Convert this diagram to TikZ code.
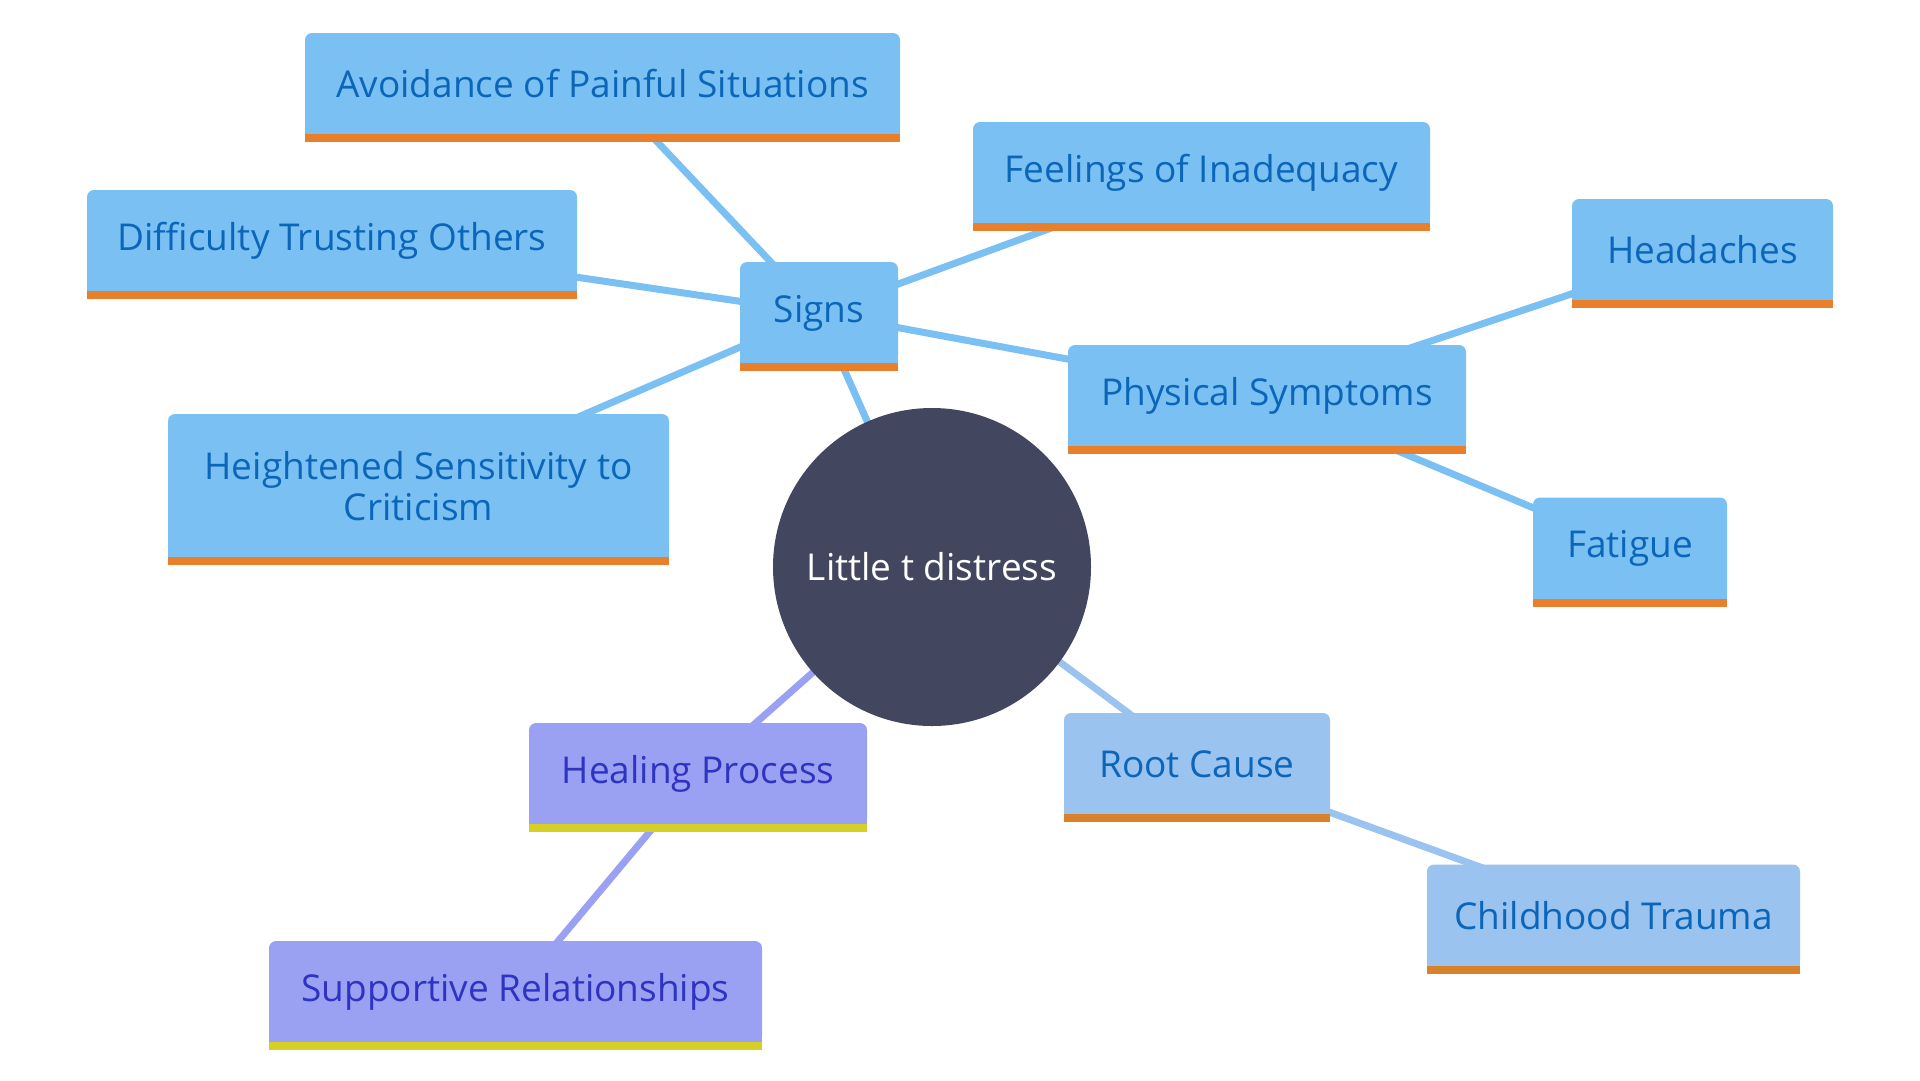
\documentclass[tikz,border=0pt]{standalone}
\usepackage{fontspec}
\setmainfont{Open Sans}
\usetikzlibrary{backgrounds}
\tikzset{>=latex}
\definecolor{b1}{HTML}{7BC0F2}
\definecolor{b2}{HTML}{0B66BA}
\definecolor{o1}{HTML}{E97F2B}
\definecolor{r1}{HTML}{9AC3EF}
\definecolor{r2}{HTML}{D9822A}
\definecolor{p1}{HTML}{9BA1F2}
\definecolor{p2}{HTML}{2E33C2}
\definecolor{y1}{HTML}{D6CF26}
\definecolor{c1}{HTML}{42465E}
\tikzstyle{box}=[rounded corners=7pt,inner sep=0pt,align=center,
                 minimum height=102pt,font=\fontsize{37}{41}\selectfont]
\tikzstyle{sign}=[box,fill=b1,text=b2]
\tikzstyle{root}=[box,fill=r1,text=b2]
\tikzstyle{heal}=[box,fill=p1,text=p2]
\tikzstyle{link}=[line width=7pt]

\begin{document}
\begin{tikzpicture}[x=1pt,y=-1pt]
  \useasboundingbox (0,0) rectangle (1920,1080);
  \node[circle,fill=c1,text=white,minimum size=318pt,inner sep=0pt,
        font=\fontsize{37}{41}\selectfont] (core) at (932,567) {Little t distress};
  \node[sign,minimum width=158pt] (signs) at (819,313) {Signs};
  \node[sign,minimum width=595pt] (avoid) at (602.5,84) {Avoidance of Painful Situations};
  \node[sign,minimum width=457pt] (feel) at (1201.5,173) {Feelings of Inadequacy};
  \node[sign,minimum width=490pt] (trust) at (332,241) {Difficulty Trusting Others};
  \node[sign,minimum width=501pt,minimum height=144pt] (sens) at (418.5,486)
       {Heightened Sensitivity to\\Criticism};
  \node[sign,minimum width=398pt] (phys) at (1267,396) {Physical Symptoms};
  \node[sign,minimum width=261pt] (head) at (1702.5,250) {Headaches};
  \node[sign,minimum width=194pt] (fat) at (1630,548.5) {Fatigue};
  \node[root,minimum width=266pt] (cause) at (1197,764) {Root Cause};
  \node[root,minimum width=373pt] (child) at (1613.5,915.5) {Childhood Trauma};
  \node[heal,minimum width=338pt] (healing) at (698,774) {Healing Process};
  \node[heal,minimum width=493pt] (supp) at (515.5,992) {Supportive Relationships};
  % square bottom corners and bars under the boxes
  \foreach \n/\f/\c in {signs/b1/o1,avoid/b1/o1,feel/b1/o1,trust/b1/o1,sens/b1/o1,
                        phys/b1/o1,head/b1/o1,fat/b1/o1,cause/r1/r2,child/r1/r2,
                        healing/p1/y1,supp/p1/y1}{
    \fill[\f] (\n.south west) rectangle ([yshift=8pt]\n.south east);
    \fill[\c] ([yshift=1pt]\n.south west) rectangle ([yshift=-7pt]\n.south east);
  }
  % links
  \begin{scope}[on background layer]
    \foreach \a/\b/\c in {core/signs/b1,signs/avoid/b1,signs/feel/b1,signs/trust/b1,
                          signs/sens/b1,signs/phys/b1,phys/head/b1,phys/fat/b1,
                          core/cause/r1,cause/child/r1,core/healing/p1,healing/supp/p1}
      \draw[link,\c] (\a.center) -- (\b.center);
  \end{scope}
\end{tikzpicture}
\end{document}
